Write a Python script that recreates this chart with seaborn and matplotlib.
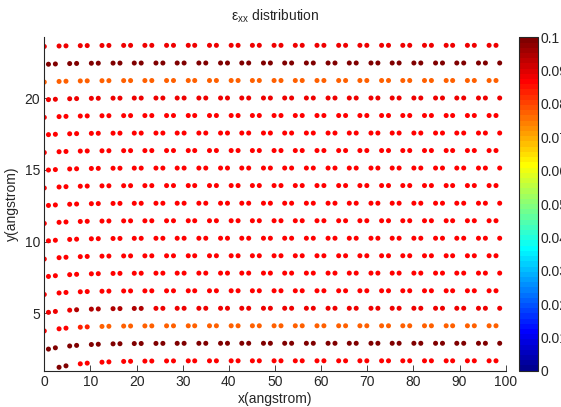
import numpy as np
import pandas as pd
import matplotlib
matplotlib.use("Agg")
import matplotlib.pyplot as plt
import seaborn as sns
from matplotlib.cm import ScalarMappable
from matplotlib.colors import Normalize, ListedColormap

# ---- data ----
# x positions of atoms in the two kinds of rows (angstrom)
x_rowA = [0.0, 3.2, 4.7, 7.8, 9.3, 12.5, 14.0, 17.2, 18.7, 21.8, 23.3, 26.5, 28.0,
          31.2, 32.6, 35.8, 37.3, 40.5, 42.0, 45.1, 46.6, 49.8, 51.3, 54.4, 55.9,
          59.1, 60.6, 63.8, 65.3, 68.4, 69.9, 73.1, 74.6, 77.7, 79.2, 82.4, 83.9,
          87.1, 88.5, 91.7, 93.2, 96.4, 97.9]
x_rowB = [0.9, 2.4, 5.5, 7.0, 10.2, 11.7, 14.9, 16.4, 19.5, 21.0, 24.2, 25.7,
          28.8, 30.3, 33.5, 35.0, 38.2, 39.7, 42.8, 44.3, 47.5, 49.0, 52.1, 53.6,
          56.8, 58.3, 61.5, 63.0, 66.1, 67.6, 70.8, 72.3, 75.4, 76.9, 80.1, 81.6,
          84.8, 86.3, 89.4, 90.9, 94.1, 95.6, 98.7]
# rows from bottom to top
row_y = [1.69, 2.91, 4.13, 5.35, 6.57, 7.80, 9.01, 10.23, 11.45, 12.67, 13.90,
         15.12, 16.34, 17.56, 18.78, 20.00, 21.22, 22.44, 23.67]
row_kind = ["A", "B", "A", "B", "A", "B", "A", "B", "A", "B", "A", "B", "A",
            "B", "A", "B", "A", "B", "A"]
row_strain = [0.087, 0.100, 0.077, 0.089, 0.087, 0.087, 0.087, 0.087, 0.087,
              0.087, 0.087, 0.087, 0.087, 0.087, 0.087, 0.089, 0.077, 0.100, 0.089]
# sag of each row at the left edge (angstrom)
row_edge_sag = [0.77, 0.47, 0.36, 0.33, 0.26, 0.27, 0.23, 0.21, 0.19, 0.18, 0.17,
                0.16, 0.14, 0.13, 0.13, 0.13, 0.11, 0.10, 0.08]
sag_length = 6.0
# strain of the first atoms of a row where it differs (row, x range, value)
edge_strain_row = [0, 2, 2, 3]
edge_strain_xmin = [0.0, -1.0, 6.0, 6.0]
edge_strain_xmax = [6.0, 6.0, 11.0, 21.0]
edge_strain_val = [0.100, 0.087, 0.083, 0.095]

ylim = (1.0, 24.23)
xlim = (0, 100)

recs = []
for j, (yb, kind, st, sag) in enumerate(zip(row_y, row_kind, row_strain, row_edge_sag)):
    xs = x_rowA if kind == "A" else x_rowB
    for x in xs:
        y = yb - sag * np.exp(-x / sag_length)
        v = st
        for r, xmn, xmx, val in zip(edge_strain_row, edge_strain_xmin,
                                    edge_strain_xmax, edge_strain_val):
            if r == j and xmn < x <= xmx:
                v = val
        if y < ylim[0] + 0.1:
            continue
        recs.append((x, y, v))
df = pd.DataFrame(recs, columns=["x", "y", "strain"])

# MATLAB-style jet(64) colormap
i = np.arange(1, 65)
r = np.clip(np.minimum((i - 24) / 16, (72 - i) / 16), 0, 1)
g = np.clip(np.minimum((i - 8) / 16, (56 - i) / 16), 0, 1)
b = np.clip(np.minimum((i + 8) / 16, (40 - i) / 16), 0, 1)
cmap = ListedColormap(np.column_stack([r, g, b]))
norm = Normalize(0, 0.1)

# ---- plot ----
sns.set_style("ticks")
plt.rcParams["font.family"] = ["Liberation Sans", "DejaVu Sans"]
plt.rcParams["mathtext.fontset"] = "custom"
plt.rcParams["mathtext.rm"] = "Liberation Sans"
plt.rcParams["mathtext.it"] = "Liberation Sans"
fs = 10

fig = plt.figure(figsize=(5.61, 4.07), dpi=100)
ax = fig.add_axes([44.3 / 561, 1 - 370.7 / 407, (505.7 - 44.3) / 561, (370.7 - 37.3) / 407])
sns.scatterplot(data=df, x="x", y="y", hue="strain", palette=cmap, hue_norm=norm,
                s=13, linewidth=0, legend=False, ax=ax)
ax.set_xlim(*xlim)
ax.set_ylim(*ylim)
ax.set_xticks(range(0, 101, 10))
ax.set_yticks([5, 10, 15, 20])
for s in ["top", "right"]:
    ax.spines[s].set_visible(False)
for s in ["left", "bottom"]:
    ax.spines[s].set_linewidth(0.8)
ax.tick_params(direction="in", length=4, width=0.6, labelsize=fs, pad=3)
ax.set_xlabel("x(angstrom)", fontsize=fs, labelpad=2)
ax.set_ylabel("y(angstrom)", fontsize=fs, labelpad=4)
ax.set_title("ε$_{\\mathrm{xx}}$ distribution", fontsize=fs, pad=12)

cax = fig.add_axes([519 / 561, 1 - 370.7 / 407, 19 / 561, (370.7 - 37.3) / 407])
sm = ScalarMappable(norm=norm, cmap=cmap)
cb = fig.colorbar(sm, cax=cax, ticks=np.round(np.arange(0, 0.101, 0.01), 2))
cb.ax.set_yticklabels(["0", "0.01", "0.02", "0.03", "0.04", "0.05", "0.06",
                       "0.07", "0.08", "0.09", "0.1"])
cb.outline.set_linewidth(0.8)
cb.ax.tick_params(direction="in", length=4, width=0.6, labelsize=fs, pad=2,
                  left=True, right=True)

fig.savefig("out.png", dpi=100)
